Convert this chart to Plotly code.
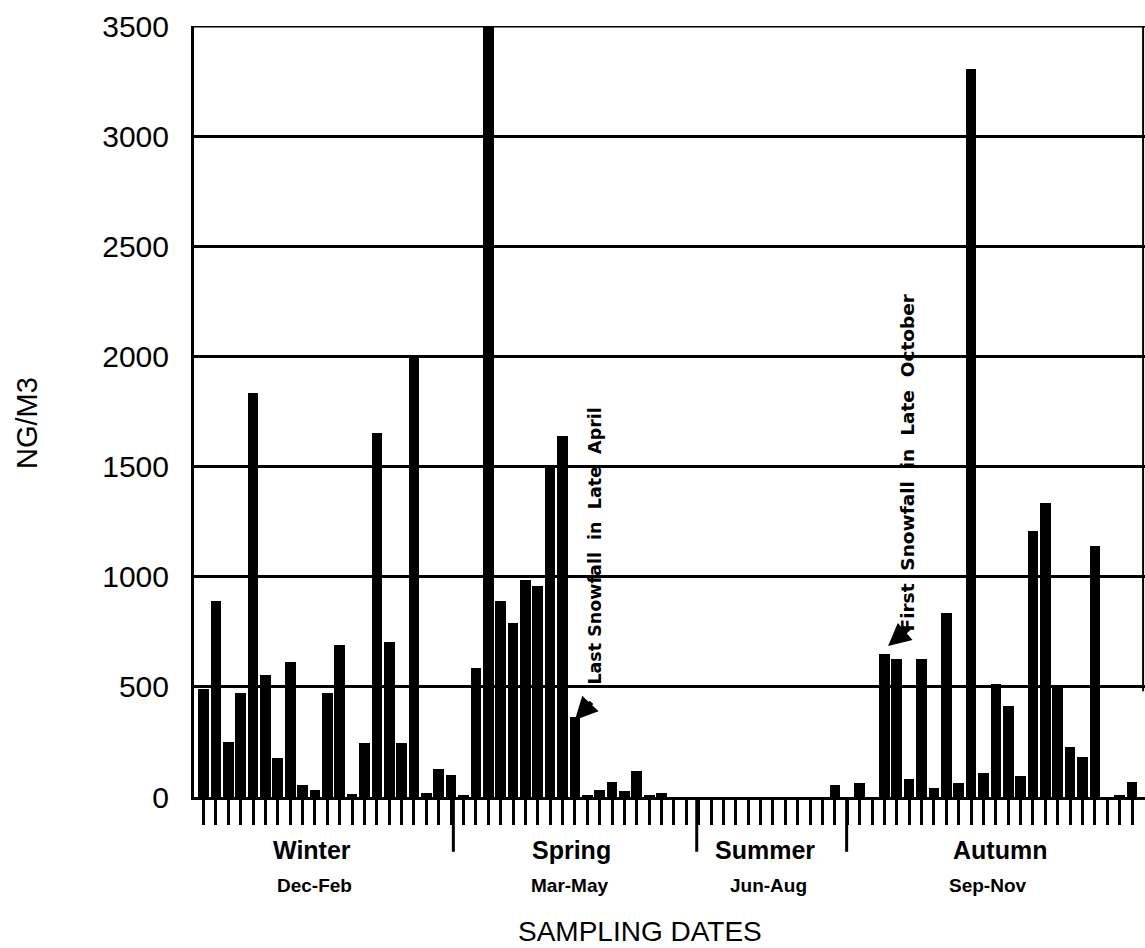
import plotly.graph_objects as go

# ---- data ----
slots = list(range(76))
values = [
    490, 888, 251, 471, 1835, 555, 176, 615, 55, 32,
    471, 690, 12, 247, 1653, 703, 247, 2000, 20, 127,
    100, 8, 585, 3500, 888, 789, 983, 959, 1501, 1638,
    365, 10, 30, 68, 26, 117, 5, 20, 0, 0,
    0, 0, 0, 0, 0, 0, 0, 0, 0, 0,
    0, 55, 0, 65, 0, 650, 626, 80, 626, 40,
    835, 65, 3305, 108, 512, 411, 95, 1206, 1335, 501,
    226, 180, 1138, 0, 5, 70,
]
season_names = ["Winter", "Spring", "Summer", "Autumn"]
season_months = ["Dec-Feb", "Mar-May", "Jun-Aug", "Sep-Nov"]
season_name_pos = [8.74, 29.74, 45.35, 64.33]
season_month_pos = [9.0, 29.6, 45.6, 63.4]
season_breaks = [20.18, 39.84, 51.95]
y_ticks = [0, 500, 1000, 1500, 2000, 2500, 3000, 3500]

fig = go.Figure()
fig.add_trace(go.Bar(
    x=slots, y=values, width=0.86,
    marker=dict(color="black", line=dict(width=0)),
    showlegend=False,
))

fig.update_layout(
    width=1145, height=948,
    margin=dict(l=194, r=0, t=26, b=151),
    paper_bgcolor="white", plot_bgcolor="white",
    font=dict(family="Liberation Sans", color="black"),
    bargap=0,
    xaxis=dict(
        range=[-0.77, 76.05],
        tickmode="array", tickvals=slots, showticklabels=False,
        ticks="outside", ticklen=25, tickwidth=3, tickcolor="black",
        showline=True, linecolor="black", linewidth=3,
        showgrid=False, zeroline=False, fixedrange=True,
    ),
    yaxis=dict(
        range=[0, 3500],
        tickmode="array", tickvals=y_ticks,
        ticktext=[str(v) for v in y_ticks],
        tickfont=dict(family="Liberation Sans", size=30, color="black"),
        ticks="", ticklabelstandoff=16,
        showline=True, linecolor="black", linewidth=3,
        showgrid=True, gridcolor="black", gridwidth=2.5,
        zeroline=False, fixedrange=True,
    ),
)

# top border
fig.add_shape(type="line", xref="paper", yref="y", x0=0, x1=1, y0=3500, y1=3500,
              line=dict(color="black", width=3))
# partial right border
fig.add_shape(type="line", xref="paper", yref="y", x0=0.998, x1=0.998, y0=480, y1=3500,
              line=dict(color="black", width=2))

# season dividers
for b in season_breaks:
    fig.add_shape(type="line", xref="x", yref="paper", x0=b, x1=b, y0=0, y1=-0.071,
                  line=dict(color="black", width=3))

for name, pos in zip(season_names, season_name_pos):
    fig.add_annotation(x=pos, y=-0.0687, xref="x", yref="paper", text=name,
                       showarrow=False, xanchor="center", yanchor="middle",
                       font=dict(family="Liberation Sans", size=25, color="black", weight="bold"))
for m, pos in zip(season_months, season_month_pos):
    fig.add_annotation(x=pos, y=-0.1154, xref="x", yref="paper", text=m,
                       showarrow=False, xanchor="center", yanchor="middle",
                       font=dict(family="Liberation Sans", size=19, color="black", weight="bold"))

fig.add_annotation(x=(640 - 194) / 951, y=-0.175, xref="paper", yref="paper",
                   text="SAMPLING DATES", showarrow=False, xanchor="center", yanchor="middle",
                   font=dict(family="Liberation Sans", size=28, color="black"))
fig.add_annotation(x=-(194 - 27) / 951, y=0.485, xref="paper", yref="paper",
                   text="NG/M3", showarrow=False, textangle=-90,
                   xanchor="center", yanchor="middle",
                   font=dict(family="Liberation Sans", size=29, color="black"))

# snowfall notes
fig.add_annotation(x=31.6, y=1140, xref="x", yref="y",
                   text="Last Snowfall  in  Late  April", showarrow=False, textangle=-90,
                   xanchor="center", yanchor="middle",
                   font=dict(family="DejaVu Sans", size=17.5, color="black", weight="bold"))
fig.add_annotation(x=30.0, y=350, xref="x", yref="y", text="", showarrow=True,
                   ax=18, ay=-19, arrowhead=2, arrowsize=0.9, arrowwidth=5, arrowcolor="black")
fig.add_annotation(x=56.85, y=1520, xref="x", yref="y",
                   text="First  Snowfall  in  Late  October", showarrow=False, textangle=-90,
                   xanchor="center", yanchor="middle",
                   font=dict(family="DejaVu Sans", size=18.5, color="black", weight="bold"))
fig.add_annotation(x=55.3, y=685, xref="x", yref="y", text="", showarrow=True,
                   ax=22, ay=-19, arrowhead=2, arrowsize=0.9, arrowwidth=5, arrowcolor="black")

fig.write_html("out.html", config={"displayModeBar": False},
               post_script="document.body.style.margin='0';")
